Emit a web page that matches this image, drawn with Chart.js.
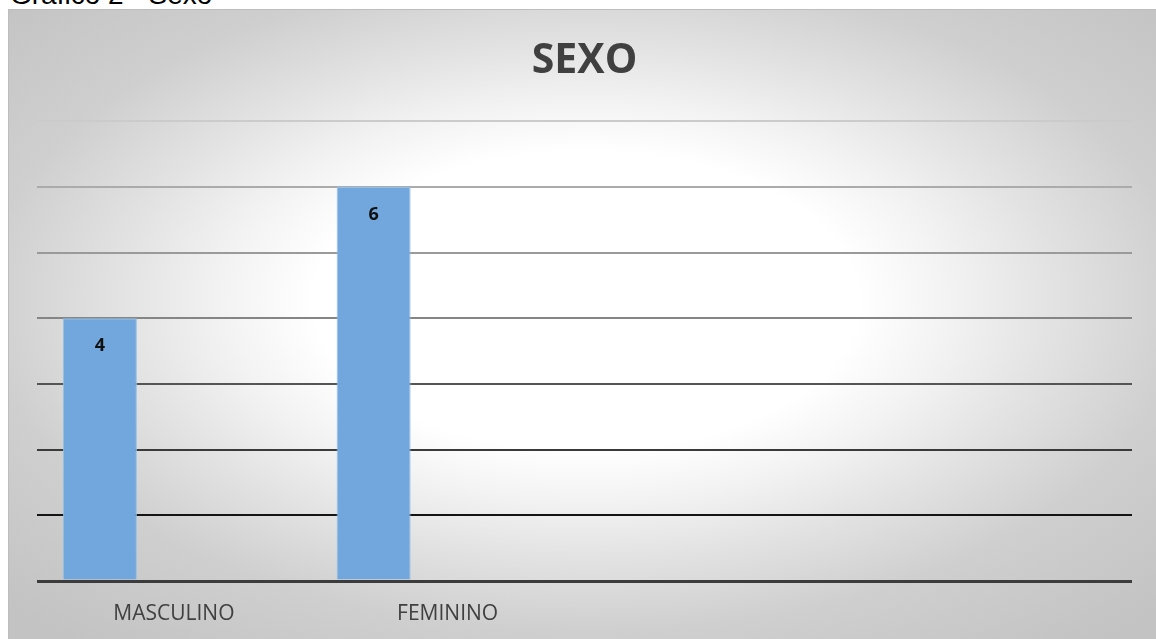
<!DOCTYPE html>
<html>
<head>
<meta charset="utf-8">
<script src="https://cdn.jsdelivr.net/npm/chart.js@4.4.1/dist/chart.umd.min.js"></script>
<style>
  html, body { margin: 0; padding: 0; background: #ffffff; overflow: hidden; }
  #page { position: relative; width: 1156px; height: 639px; overflow: hidden; }
  #box {
    position: absolute; left: 8px; top: 9px; width: 1148px; height: 630px;
    box-sizing: border-box;
    border-left: 1px solid #bdbdbd; border-top: 1px solid #bdbdbd;
    background: radial-gradient(ellipse 800px 440px at 577px 291px,
      #ffffff 0%, #ffffff 34%, #f2f2f2 46%, #e3e3e3 58%, #cfcfcf 75%, #c3c3c3 100%);
  }
  #caption {
    position: absolute; left: 10px; top: -19px; line-height: 28px;
    font-family: "Liberation Sans", Arial, sans-serif; font-size: 28px; color: #000;
    white-space: nowrap;
  }
  #wrap { position: absolute; left: 0; top: 0; width: 1156px; height: 639px; }
</style>
</head>
<body>
<div id="page">
  <div id="caption">Gráfico 2 - Sexo</div>
  <div id="box"></div>
  <div id="wrap"><canvas id="c"></canvas></div>
</div>
<script>
// ---- data ----
const categories = ['MASCULINO', 'FEMININO', '', ''];
const serie1 = [4, 6, null, null];
const serie2 = [null, null, null, null];
const serie3 = [null, null, null, null];
const chartTitle = 'SEXO';
const yMin = 0;
const yMax = 7;

const gridColors = ['#3c3c3c', '#141414', '#3a3a3a', '#555555', '#858585', '#9a9a9a', '#ababab', '#cbcbcb'];

const valueLabels = {
  id: 'valueLabels',
  afterDatasetsDraw(chart) {
    const ctx = chart.ctx;
    const meta = chart.getDatasetMeta(0);
    ctx.save();
    ctx.font = 'bold 18px "Open Sans", sans-serif';
    ctx.fillStyle = '#111111';
    ctx.textAlign = 'center';
    ctx.textBaseline = 'middle';
    meta.data.forEach((bar, i) => {
      const v = chart.data.datasets[0].data[i];
      if (v === null || v === undefined) return;
      ctx.fillText(String(v), bar.x, bar.y + 28);
    });
    ctx.restore();
  }
};

const barStyle = {
  backgroundColor: '#71a7dc',
  borderColor: '#95bfe6',
  borderWidth: 1,
  borderSkipped: 'bottom',
  categoryPercentage: 0.811,
  barPercentage: 1.0
};

new Chart(document.getElementById('c'), {
  type: 'bar',
  data: {
    labels: categories,
    datasets: [
      Object.assign({ label: 'Série1', data: serie1 }, barStyle),
      Object.assign({ label: 'Série2', data: serie2 }, barStyle),
      Object.assign({ label: 'Série3', data: serie3 }, barStyle)
    ]
  },
  options: {
    responsive: true,
    maintainAspectRatio: false,
    animation: false,
    layout: { padding: { left: 37, right: 24, top: 0, bottom: 0 } },
    plugins: {
      legend: { display: false },
      tooltip: { enabled: false },
      title: {
        display: true,
        text: chartTitle,
        color: '#404040',
        font: { family: '"Open Sans", sans-serif', size: 41, weight: 'bold' },
        padding: { top: 37, bottom: 35 }
      }
    },
    scales: {
      x: {
        grid: { display: false, drawTicks: false },
        border: { display: false },
        ticks: {
          color: '#404040',
          font: { family: '"Open Sans", sans-serif', size: 21 },
          padding: 20,
          maxRotation: 0,
          autoSkip: false
        },
        afterFit: (s) => { s.height = 58; }
      },
      y: {
        min: yMin,
        max: yMax,
        ticks: { display: false, stepSize: 1 },
        border: { display: false },
        grid: {
          drawTicks: false,
          color: (c) => gridColors[c.tick ? Math.round(c.tick.value) : 0] || '#999',
          lineWidth: (c) => (c.tick && c.tick.value === 0 ? 3 : 2)
        },
        afterFit: (s) => { s.width = 0; }
      }
    }
  },
  plugins: [valueLabels]
});
</script>
</body>
</html>
